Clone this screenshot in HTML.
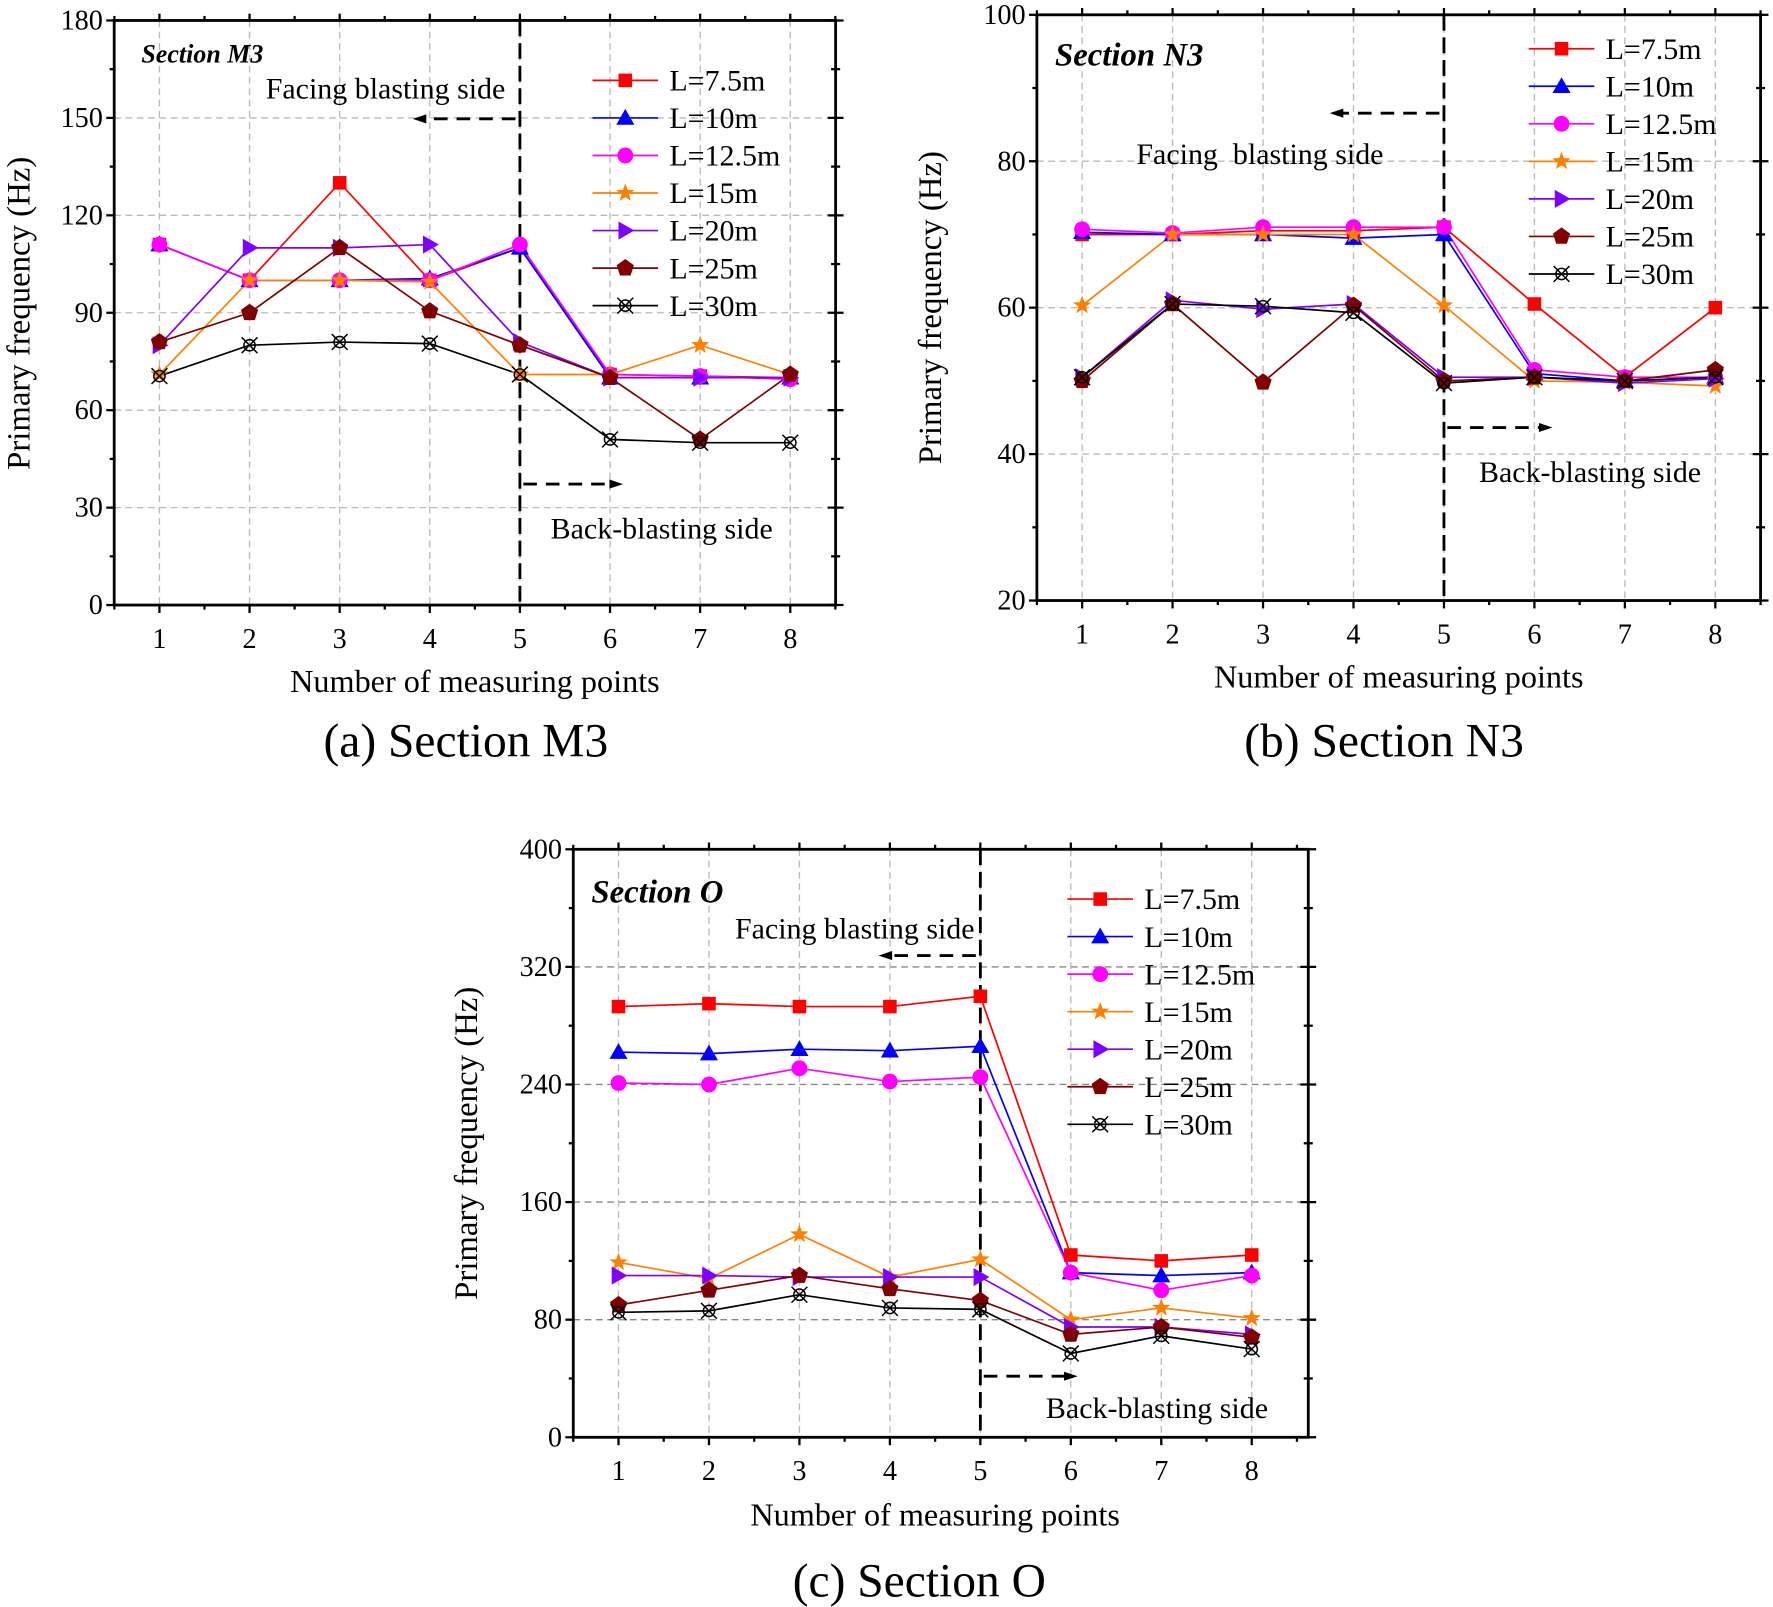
<!DOCTYPE html>
<html><head><meta charset="utf-8"><style>body{margin:0;background:#fff}svg{display:block}</style></head>
<body>
<svg id="s" width="1773" height="1607" viewBox="0 0 1568 1421" xmlns="http://www.w3.org/2000/svg" font-family="Liberation Serif, serif"></svg>
<script>
const S=document.getElementById('s');let h='';
const cols=['#ff0000','#0000ff','#ff00ff','#ff8000','#8000ff','#800000','#000000'];
const names=['L=7.5m','L=10m','L=12.5m','L=15m','L=20m','L=25m','L=30m'];
function mk(t,x,y,c){
 if(t==0)return `<rect x="${x-6}" y="${y-6}" width="12" height="12" fill="${c}"/>`;
 if(t==1)return `<polygon points="${x},${y-8} ${x+8},${y+6} ${x-8},${y+6}" fill="${c}"/>`;
 if(t==2)return `<circle cx="${x}" cy="${y}" r="7" fill="${c}"/>`;
 if(t==3){let p=[];for(let i=0;i<10;i++){let a=-Math.PI/2+i*Math.PI/5,rr=i%2?3.5:8.5;p.push((x+rr*Math.cos(a)).toFixed(1)+','+(y+rr*Math.sin(a)).toFixed(1));}return `<polygon points="${p.join(' ')}" fill="${c}"/>`;}
 if(t==4)return `<polygon points="${x-6},${y-8} ${x+8},${y} ${x-6},${y+8}" fill="${c}"/>`;
 if(t==5){let p=[];for(let i=0;i<5;i++){let a=-Math.PI/2+i*2*Math.PI/5;p.push((x+8*Math.cos(a)).toFixed(1)+','+(y+8*Math.sin(a)).toFixed(1));}return `<polygon points="${p.join(' ')}" fill="${c}"/>`;}
 return `<g stroke="${c}" stroke-width="1.3" fill="none"><line x1="${x-7}" y1="${y-7}" x2="${x+7}" y2="${y+7}"/><line x1="${x-7}" y1="${y+7}" x2="${x+7}" y2="${y-7}"/><circle cx="${x}" cy="${y}" r="5"/></g>`;}
function chart(o){
 const {L,R,T,B,x0,dx,ymin,ymax,ystep,data}=o;
 const Y=v=>B-(v-ymin)/(ymax-ymin)*(B-T);const X=i=>x0+i*dx;
 for(let v=ymin+ystep;v<ymax;v+=ystep)h+=`<line x1="${L}" x2="${R}" y1="${Y(v)}" y2="${Y(v)}" stroke="${o.gc||'#bbb'}" stroke-dasharray="6,4" stroke-width="1.2"/>`;
 for(let i=0;i<8;i++)h+=`<line x1="${X(i)}" x2="${X(i)}" y1="${T}" y2="${B}" stroke="#bbb" stroke-dasharray="6,4" stroke-width="1.2"/>`;
 for(let v=ymin;v<=ymax;v+=ystep/2){const maj=((v-ymin)/ystep)%1==0;const y=Y(v);
  h+=`<line x1="${L-(maj?7:4)}" x2="${L}" y1="${y}" y2="${y}" stroke="#000" stroke-width="2"/><line x1="${R-(maj?7:4)}" x2="${R+(maj?7:4)}" y1="${y}" y2="${y}" stroke="#000" stroke-width="2"/>`;
  if(maj)h+=`<text x="${L-10}" y="${y+8}" font-size="25" text-anchor="end">${v}</text>`;}
 for(let i=-0.5;i<=8;i+=0.5){const x=X(i);if(x<L||x>R)continue;const maj=i%1==0;
  h+=`<line x1="${x}" x2="${x}" y1="${B}" y2="${B+(maj?7:4)}" stroke="#000" stroke-width="2"/><line x1="${x}" x2="${x}" y1="${T-(maj?6:4)}" y2="${T}" stroke="#000" stroke-width="2"/>`;
  if(maj)h+=`<text x="${x}" y="${B+38}" font-size="25" text-anchor="middle">${i+1}</text>`;}
 h+=`<rect x="${L}" y="${T}" width="${R-L}" height="${B-T}" fill="none" stroke="#000" stroke-width="2.5"/>`;
 const xv=X(4);h+=`<line x1="${xv}" x2="${xv}" y1="${T}" y2="${B}" stroke="#000" stroke-width="2.5" stroke-dasharray="14,6"/>`;
 const arr=(x1,x2,y)=>{const d=x2>x1?1:-1;return `<line x1="${x1}" x2="${x2-d*6}" y1="${y}" y2="${y}" stroke="#000" stroke-width="2.5" stroke-dasharray="12,8"/><polygon points="${x2},${y} ${x2-d*12},${y-4} ${x2-d*12},${y+4}" fill="#000"/>`};
 h+=arr(xv-4,o.fa[0],o.fa[1])+arr(xv+3,o.ba[0],o.ba[1]);
 h+=`<text x="${o.ft[0]}" y="${o.ft[1]}" font-size="26.5" xml:space="preserve">${o.ftxt}</text><text x="${o.bt[0]}" y="${o.bt[1]}" font-size="26.5">Back-blasting side</text>`;
 h+=`<text x="${o.sl[0]}" y="${o.sl[1]}" font-size="${o.sls}" font-weight="bold" font-style="italic">${o.title}</text>`;
 data.forEach((d,k)=>{h+=`<polyline points="${d.map((v,i)=>X(i)+','+Y(v).toFixed(1)).join(' ')}" fill="none" stroke="${cols[k]}" stroke-width="1.5"/>`;});
 data.forEach((d,k)=>{d.forEach((v,i)=>h+=mk(k,X(i),Y(v),cols[k]));});
 const [lx,ly,ld]=o.lg;
 for(let k=0;k<7;k++){const y=ly+k*ld;h+=`<line x1="${lx}" x2="${lx+58}" y1="${y}" y2="${y}" stroke="${cols[k]}" stroke-width="1.5"/>`+mk(k,lx+29,y,cols[k])+`<text x="${lx+68}" y="${y+9}" font-size="26.5">${names[k]}</text>`;}
 h+=`<text transform="translate(${o.yl[0]},${o.yl[1]}) rotate(-90)" font-size="29" text-anchor="middle">Primary frequency (Hz)</text>`;
 h+=`<text x="${o.xl[0]}" y="${o.xl[1]}" font-size="28.5" text-anchor="middle">Number of measuring points</text>`;
 h+=`<text x="${o.cap[0]}" y="${o.cap[1]}" font-size="42" text-anchor="middle">${o.ctxt}</text>`;
}
chart({L:101,R:739,T:18,B:535,x0:141,dx:79.7,ymin:0,ymax:180,ystep:30,
 data:[[111,100,130,100,110,71,70.5,70],[111,100,100,100.5,110,70,70,70],[111,100,100,100,111,71,70.5,69.5],[71,100,100,99.5,71,71,80,71],[80,110,110,111,81,70,70,70],[81,90,110,90.5,80,70,51,71],[70.5,80,81,80.5,71,51,50,50]],
 fa:[365,105],ba:[551,428],ft:[235,87],ftxt:'Facing blasting side',bt:[487,476],sl:[125,55],sls:23,title:'Section M3',lg:[524,71,33.2],yl:[26,277],xl:[420,612],cap:[412,669],ctxt:'(a) Section M3'});
chart({L:917,R:1557,T:13,B:531,x0:957,dx:80,ymin:20,ymax:100,ystep:20,
 data:[[70,70,70.5,70.5,71,60.5,50.5,60],[70.3,70,70,69.5,70,51,50,50.5],[70.7,70.2,71,71,71,51.5,50.5,50.5],[60.3,70,70,70,60.3,50,49.8,49.3],[50.5,61,59.8,60.5,50.5,50.5,49.7,50.3],[50,60.5,49.8,60.3,50,50.5,50,51.5],[50.5,60.5,60.2,59.3,49.7,50.5,50,50.5]],
 fa:[1176,100],ba:[1373,378],ft:[1005,145],ftxt:'Facing  blasting side',bt:[1308,426],sl:[933,58],sls:29,title:'Section N3',lg:[1352,43,33.2],yl:[832,272],xl:[1237,608],cap:[1224,669],ctxt:'(b) Section N3'});
chart({L:507,R:1157,T:751,B:1271,x0:547,dx:80,ymin:0,ymax:400,ystep:80,gc:'#888',
 data:[[293,295,293,293,300,124,120,124],[262,261,264,263,266,112,110,112],[241,240,251,242,245,112,100,110],[119,108,138,109,121,80,88,81],[110,110,109,109,109,75,75,70],[90,100,110,101,93,70,75,68],[85,86,97,88,87,57,69,60]],
 fa:[777,845],ba:[953,1217],ft:[650,830],ftxt:'Facing blasting side',bt:[925,1254],sl:[523,798],sls:29,title:'Section O',lg:[944,795,33.2],yl:[422,1011],xl:[827,1349],cap:[813,1412],ctxt:'(c) Section O'});
S.innerHTML=h;
</script>
</body></html>
